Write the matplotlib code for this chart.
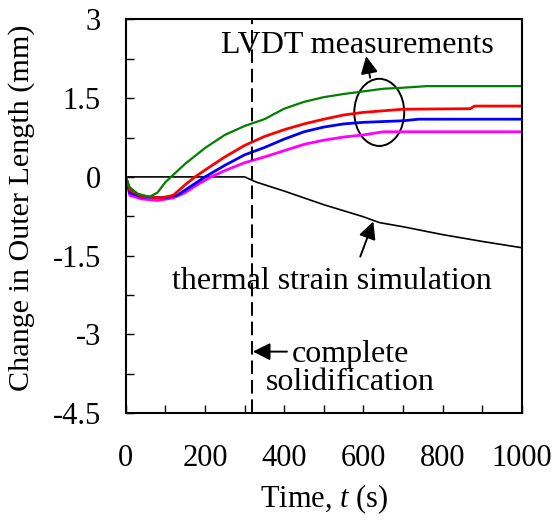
import matplotlib
matplotlib.use("Agg")
import matplotlib.pyplot as plt
from matplotlib.patches import Ellipse
from matplotlib.ticker import MultipleLocator

plt.rcParams['font.family'] = ['Liberation Serif', 'DejaVu Serif']
plt.rcParams['mathtext.fontset'] = 'custom'
plt.rcParams['mathtext.it'] = 'Liberation Serif:italic'
plt.rcParams['mathtext.rm'] = 'Liberation Serif'

# LVDT measurements (s, mm)
green_t = [0, 10, 30, 60, 80, 100, 150, 200, 250, 300, 350, 400, 450, 500, 550, 600, 650, 700, 760, 1000]
green_v = [0, -0.2, -0.32, -0.38, -0.3, -0.1, 0.25, 0.55, 0.8, 0.97, 1.1, 1.3, 1.43, 1.52, 1.58, 1.63, 1.68, 1.7, 1.73, 1.73]

red_t = [0, 10, 40, 90, 120, 150, 175, 200, 250, 300, 350, 400, 450, 500, 550, 600, 700, 870, 880, 1000]
red_v = [0, -0.25, -0.37, -0.4, -0.35, -0.15, 0, 0.13, 0.38, 0.6, 0.77, 0.9, 1.01, 1.1, 1.18, 1.23, 1.29, 1.3, 1.35, 1.35]

blue_t = [0, 10, 40, 100, 130, 160, 200, 250, 300, 350, 400, 450, 500, 550, 600, 700, 740, 1000]
blue_v = [0, -0.3, -0.38, -0.4, -0.35, -0.2, 0, 0.22, 0.42, 0.56, 0.72, 0.86, 0.95, 1.01, 1.04, 1.07, 1.1, 1.1]

magenta_t = [0, 10, 40, 80, 120, 150, 180, 215, 250, 300, 350, 400, 450, 500, 550, 600, 650, 1000]
magenta_v = [0, -0.35, -0.42, -0.45, -0.4, -0.3, -0.15, 0, 0.12, 0.27, 0.38, 0.5, 0.62, 0.7, 0.76, 0.8, 0.86, 0.86]

# thermal strain simulation
sim_t = [0, 300, 330, 400, 500, 600, 640, 700, 800, 900, 1000]
sim_v = [0, 0, -0.1, -0.27, -0.53, -0.76, -0.87, -0.95, -1.1, -1.23, -1.35]

t_solid = 318

fig = plt.figure(figsize=(5.54, 5.27), dpi=100)
ax = fig.add_axes([0.227, 0.2163, 0.715, 0.7467])

ax.plot(sim_t, sim_v, color='black', lw=1.2)
ax.plot(magenta_t, magenta_v, color='magenta', lw=2)
ax.plot(blue_t, blue_v, color='blue', lw=2)
ax.plot(red_t, red_v, color='red', lw=2)
ax.plot(green_t, green_v, color='green', lw=1.6)

ax.axvline(t_solid, color='black', lw=1.4, linestyle=(0, (7, 3)))

ax.add_patch(Ellipse((640, 1.23), 126, 1.28, fill=False, edgecolor='black', lw=1.4))

arrow = dict(arrowstyle='-|>', color='black', lw=1.4, mutation_scale=26, shrinkA=0, shrinkB=0)
ax.annotate('', xy=(607, 2.3), xytext=(617, 1.89), arrowprops=arrow)
ax.text(585, 2.51, 'LVDT measurements', ha='center', va='center', fontsize=23)

ax.annotate('', xy=(625, -0.85), xytext=(592, -1.52), arrowprops=arrow)
ax.text(521, -2.0, 'thermal strain simulation', ha='center', va='center', fontsize=23)

ax.annotate('', xy=(t_solid + 3, -3.33), xytext=(407, -3.33), arrowprops=arrow)
ax.text(567, -3.66, 'complete\nsolidification', ha='center', va='center', fontsize=23,
        linespacing=0.95)

ax.set_xlim(0, 1000)
ax.set_ylim(-4.5, 3)
ax.xaxis.set_major_locator(MultipleLocator(200))
ax.xaxis.set_minor_locator(MultipleLocator(100))
ax.yaxis.set_minor_locator(MultipleLocator(0.75))
ax.set_yticks([3, 1.5, 0, -1.5, -3, -4.5])
ax.set_yticklabels(['3', '1.5', '0', '-1.5', '-3', '-4.5'])
ax.tick_params(axis='both', which='both', direction='in', length=6, width=1,
               labelsize=22, top=False, right=False)
ax.tick_params(axis='x', which='both', pad=22)
ax.tick_params(axis='y', which='both', pad=18)
for s in ax.spines.values():
    s.set_linewidth(1.5)

ax.set_xlabel('Time, $t$ (s)', fontsize=22, labelpad=7)
ax.set_ylabel('Change in Outer Length (mm)', fontsize=21.7)
ax.yaxis.set_label_coords(-0.228, 0.522)

fig.savefig('out.png', dpi=100)
